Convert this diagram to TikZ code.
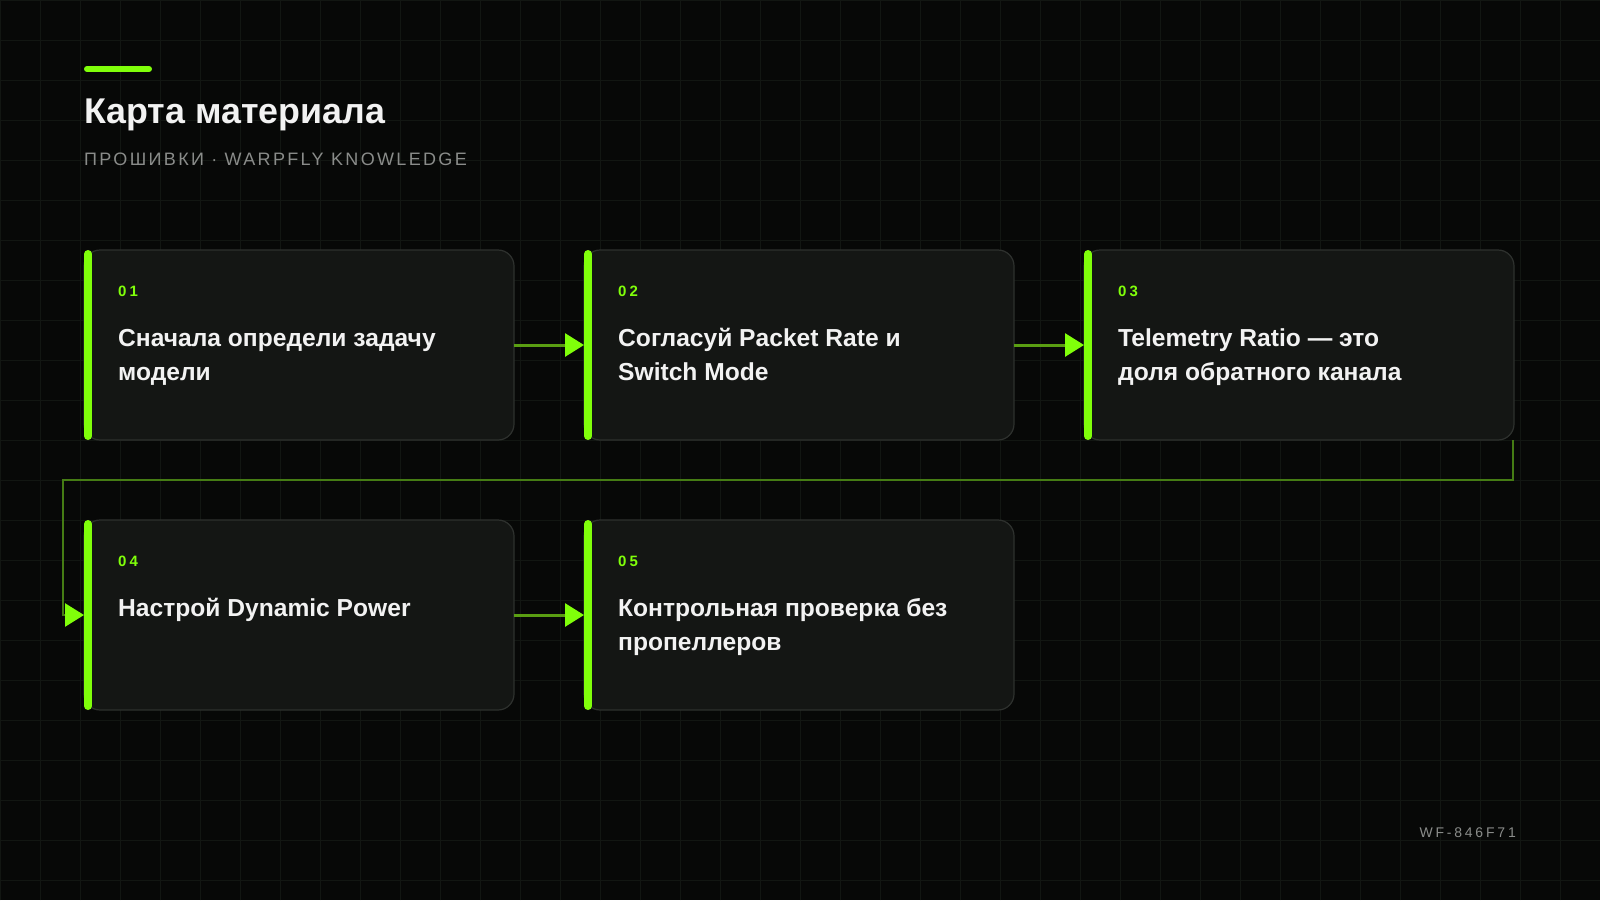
\documentclass[tikz,border=0pt]{standalone}
\usepackage{fontspec}
\setmainfont{Liberation Sans}
\newfontfamily\spacedfont[LetterSpace=13]{Liberation Sans}
\newfontfamily\numfont[LetterSpace=20]{Liberation Sans}
\usetikzlibrary{arrows.meta, positioning}
\definecolor{bgcol}{HTML}{070807}
\definecolor{gridcol}{HTML}{121612}
\definecolor{cardfill}{HTML}{141614}
\definecolor{cardline}{HTML}{2E312E}
\definecolor{lime}{HTML}{80FF0A}
\definecolor{arrowline}{HTML}{5A9E12}
\definecolor{wrapcol}{HTML}{457C14}
\definecolor{txtcol}{HTML}{F2F2F2}
\definecolor{mutecol}{HTML}{8A8C8A}
\tikzstyle{card} = [rectangle, rounded corners=16pt, minimum width=430pt,
minimum height=190pt, draw=cardline, line width=1.2pt, fill=cardfill,
inner sep=0pt, outer sep=0pt]
\tikzstyle{accent} = [line width=8pt, draw=lime, line cap=round]
\tikzstyle{stepnum} = [anchor=base west, xshift=34pt, yshift=-46pt,
inner sep=0pt, text=lime, font=\numfont\bfseries\fontsize{15}{18}\selectfont]
\tikzstyle{steptext} = [anchor=base west, xshift=34pt, yshift=-96pt,
inner sep=0pt, align=left, text=txtcol,
font=\bfseries\fontsize{24.6}{34}\selectfont]
\tikzstyle{twoline} = [yshift=-34pt]
\tikzstyle{arrow} =
[line width=3pt, draw=arrowline, -{Triangle[length=19pt,width=23pt,color=lime]}]
\tikzstyle{wrapline} =
[line width=2.6pt, draw=wrapcol, -{Triangle[length=19pt,width=23pt,color=lime]}]

\begin{document}
\begin{tikzpicture}[x=1pt, y=-1pt, node distance=500pt]

\useasboundingbox (0,0) rectangle (1600,900);
\fill[bgcol] (0,0) rectangle (1600,900);
\draw[gridcol, line width=0.8pt, step=40pt] (0,0) grid (1600,900);

% header
\draw[line width=6pt, lime, line cap=round] (87,69) -- (149,69);
\node(title)[anchor=base west, inner sep=0pt, text=txtcol,
font=\bfseries\fontsize{35.8}{42}\selectfont] at (84,123) {Карта материала};
\node(subtitle)[anchor=base west, inner sep=0pt, text=mutecol,
font=\spacedfont\fontsize{18}{22}\selectfont] at (84,165)
{ПРОШИВКИ · WARPFLY KNOWLEDGE};

% cards
\node(task)[card] at (299,345) {};
\node(rate)[card, right of=task] {};
\node(telem)[card, right of=rate] {};
\node(power)[card, below of=task, yshift=230pt] {};
\node(bench)[card, right of=power] {};

\foreach \c in {task, rate, telem, power, bench}
  \draw[accent] ([xshift=4pt, yshift=-4pt]\c.north west) --
  ([xshift=4pt, yshift=4pt]\c.south west);

\node(tasknum)[stepnum] at (task.north west) {01};
\node(tasktxt)[steptext, twoline] at (task.north west)
{Сначала определи задачу\\модели};
\node(ratenum)[stepnum] at (rate.north west) {02};
\node(ratetxt)[steptext, twoline] at (rate.north west)
{Согласуй Packet Rate и\\Switch Mode};
\node(telemnum)[stepnum] at (telem.north west) {03};
\node(telemtxt)[steptext, twoline] at (telem.north west)
{Telemetry Ratio — это\\доля обратного канала};
\node(powernum)[stepnum] at (power.north west) {04};
\node(powertxt)[steptext] at (power.north west) {Настрой Dynamic Power};
\node(benchnum)[stepnum] at (bench.north west) {05};
\node(benchtxt)[steptext, twoline] at (bench.north west)
{Контрольная проверка без\\пропеллеров};

\node(tag)[anchor=base east, inner sep=0pt, text=mutecol,
font=\numfont\fontsize{14}{17}\selectfont] at (1516,837) {WF-846F71};

% connectors
\draw[arrow](task) -- (rate);
\draw[arrow](rate) -- (telem);
\coordinate(turn) at (63,480);
\draw[wrapline]([xshift=-1pt]telem.south east) |- (turn) |- (power.west);
\draw[arrow](power) -- (bench);

\end{tikzpicture}
\end{document}
